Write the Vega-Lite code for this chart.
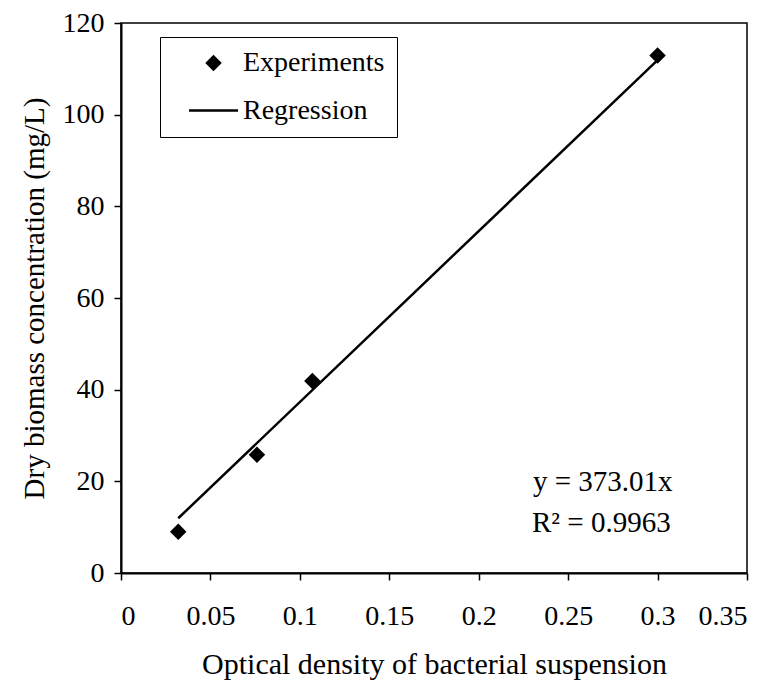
{
  "$schema": "https://vega.github.io/schema/vega-lite/v6.json",
  "width": 626,
  "height": 550,
  "autosize": "none",
  "padding": {"left": 121, "top": 23, "right": 28, "bottom": 114},
  "background": "white",
  "config": {
    "font": "Liberation Serif",
    "view": {"stroke": "black", "strokeWidth": 1.5},
    "axis": {
      "domainColor": "black", "domainWidth": 2, "tickColor": "black", "tickWidth": 1.5, "tickSize": 7,
      "labelFont": "Liberation Serif", "labelFontSize": 28, "labelColor": "black",
      "titleFont": "Liberation Serif", "titleFontSize": 28, "titleFontWeight": "normal", "titleColor": "black",
      "grid": false
    },
    "legend": {
      "labelFont": "Liberation Serif", "labelFontSize": 28, "labelColor": "black"
    }
  },
  "datasets": {
    "exp": [
      {"od": 0.032, "biomass": 9.0, "series": "Experiments"},
      {"od": 0.076, "biomass": 25.8, "series": "Experiments"},
      {"od": 0.107, "biomass": 41.9, "series": "Experiments"},
      {"od": 0.300, "biomass": 112.9, "series": "Experiments"}
    ],
    "reg": [
      {"od": 0.032, "biomass": 11.94, "series": "Regression"},
      {"od": 0.300, "biomass": 111.90, "series": "Regression"}
    ],
    "notes": [
      {"od": 0.2303, "biomass": 19.9, "label": "y = 373.01x"},
      {"od": 0.2298, "biomass": 10.9, "label": "R² = 0.9963"}
    ]
  },
  "layer": [
    {
      "data": {"name": "reg"},
      "mark": {"type": "line", "color": "black", "strokeWidth": 2.5},
      "encoding": {
        "x": {"field": "od", "type": "quantitative", "scale": {"domain": [0, 0.35]},
          "axis": {"title": "Optical density of bacterial suspension", "titleFontSize": 30, "format": "~g", "values": [0, 0.05, 0.1, 0.15, 0.2, 0.25, 0.3, 0.35], "titlePadding": 19, "labelPadding": 22}},
        "y": {"field": "biomass", "type": "quantitative", "scale": {"domain": [0, 120]},
          "axis": {"title": "Dry biomass concentration (mg/L)", "titleFontSize": 29, "values": [0, 20, 40, 60, 80, 100, 120], "titlePadding": 13, "labelPadding": 10}}
      }
    },
    {
      "data": {"name": "exp"},
      "mark": {"type": "point", "filled": true, "opacity": 1, "color": "black"},
      "encoding": {
        "x": {"field": "od", "type": "quantitative"},
        "y": {"field": "biomass", "type": "quantitative"},
        "shape": {"field": "series", "type": "nominal",
          "scale": {"domain": ["Experiments", "Regression"], "range": ["diamond", "M-1,-0.05L1,-0.05L1,0.05L-1,0.05Z"]},
          "legend": {"title": null, "orient": "none", "legendX": 39, "legendY": 14,
            "strokeColor": "black", "fillColor": "white", "padding": 12,
            "symbolOffset": 16, "labelOffset": 4, "rowPadding": 8, "labelLimit": 400,
            "labelExpr": "datum.label + '\u00a0\u00a0\u00a0\u00a0'",
            "encode": {"symbols": {"update": {"fill": {"value": "black"}, "stroke": {"value": "transparent"}, "strokeWidth": {"value": 0}, "opacity": {"value": 1}}}}}},
        "size": {"field": "series", "type": "nominal",
          "scale": {"domain": ["Experiments", "Regression"], "range": [272, 2401]},
          "legend": {"title": null}}
      }
    },
    {
      "data": {"name": "notes"},
      "mark": {"type": "text", "align": "left", "baseline": "middle", "fontSize": 29, "color": "black", "font": "Liberation Serif"},
      "encoding": {
        "x": {"field": "od", "type": "quantitative"},
        "y": {"field": "biomass", "type": "quantitative"},
        "text": {"field": "label"}
      }
    }
  ]
}
